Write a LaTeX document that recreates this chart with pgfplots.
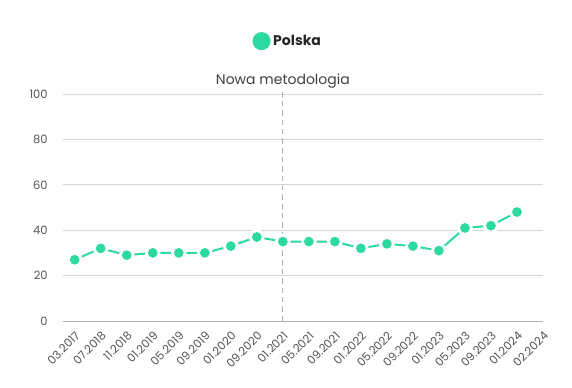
\documentclass[border=0pt]{standalone}
\usepackage{fontspec}
\setmainfont{Poppins}
\usepackage{pgfplots}
\pgfplotsset{compat=1.18}
\definecolor{pl}{HTML}{2CD9A0}
\definecolor{gridc}{HTML}{D5D5E0}
\definecolor{tickc}{HTML}{555555}
\pgfplotstableread{
x y
0 27
1 32
2 29
3 30
4 30
5 30
6 33
7 37
8 35
9 35
10 35
11 32
12 34
13 33
14 31
15 41
16 42
17 48
}\polska
\begin{document}
\begin{tikzpicture}
\path[use as bounding box] (0pt,0pt) rectangle (429pt,290.25pt);
\begin{axis}[
  at={(47.25pt,49.5pt)}, anchor=south west,
  scale only axis, width=360pt, height=170.25pt,
  xmin=-0.45, xmax=18, ymin=0, ymax=100,
  ytick={0,20,...,100},
  xtick={0,...,18},
  xticklabels={03.2017,07.2018,11.2018,01.2019,05.2019,09.2019,01.2020,09.2020,01.2021,05.2021,09.2021,01.2022,05.2022,09.2022,01.2023,05.2023,09.2023,01.2024,02.2024},
  axis line style={draw=none},
  major tick length=0pt,
  ymajorgrids, grid style={gridc, line width=0.6pt},
  /pgf/number format/assume math mode=true,
  tick label style={font=\fontsize{8.6}{10}\selectfont, text=tickc},
  yticklabel style={anchor=east, xshift=-8pt},
  xticklabel style={rotate=45, anchor=north east, inner sep=1pt, yshift=-4pt, xshift=-4pt},
  legend style={at={(0.469,1.233)}, anchor=center, draw=none, fill=none,
    font=\fontsize{10.5}{12}\selectfont\bfseries, text=black!85,
    legend cell align=left},
  legend image code/.code={\fill[pl] (0.15cm,0pt) circle (6pt);},
  clip=false,
]
\draw[gray!60, line width=0.8pt, dash pattern=on 4pt off 3pt] (axis cs:8,0) -- (axis cs:8,101.5);
\draw[black!30, line width=0.6pt] (axis cs:-0.45,0) -- (axis cs:18,0);
\node[font=\fontsize{10.5}{12}\selectfont, text=black!75] at (axis cs:8,100) [yshift=10pt] {Nowa metodologia};
\addplot[pl, line width=1.5pt, no marks] table[x=x,y=y] {\polska};
\addlegendentry{Polska}
\addplot[only marks, mark=*, mark size=5.6pt, white, forget plot] table[x=x,y=y] {\polska};
\addplot[only marks, mark=*, mark size=3.4pt, pl, mark options={draw=pl}, forget plot] table[x=x,y=y] {\polska};
\end{axis}
\end{tikzpicture}
\end{document}
